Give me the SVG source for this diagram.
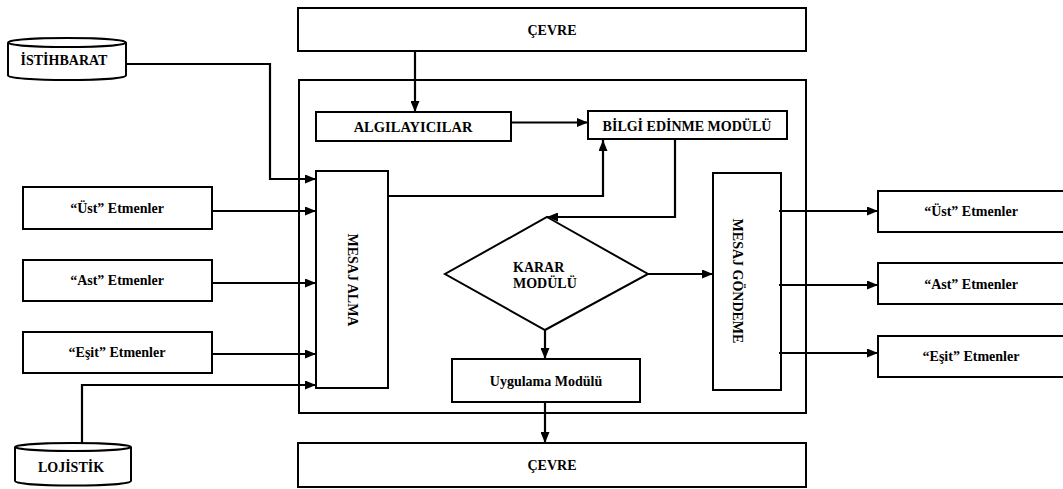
<svg xmlns="http://www.w3.org/2000/svg" width="1063" height="489" viewBox="0 0 1063 489">
<defs>
<style>
.box{fill:#fff;stroke:#000;stroke-width:2}
.plain{fill:none;stroke:#000;stroke-width:2}
.t{font-family:"Liberation Serif","Times New Roman",serif;font-weight:bold;font-size:14px;fill:#000}
.c{text-anchor:middle}
.con{fill:none;stroke:#000;stroke-width:2.2}
</style>
<marker id="ah" markerUnits="userSpaceOnUse" markerWidth="11" markerHeight="9" refX="11" refY="4.5" orient="auto">
<path d="M0,0 L11,4.5 L0,9 z" fill="#000"/>
</marker>
</defs>
<rect width="1063" height="489" fill="#fff"/>

<g id="outer"><rect class="plain" x="299" y="80" width="507" height="333"/></g>

<g id="cevre-top"><rect class="box" x="298" y="8" width="508" height="43"/><text class="t c" x="552" y="35">ÇEVRE</text></g>
<g id="cevre-bottom"><rect class="box" x="298" y="443" width="508" height="44"/><text class="t c" x="552" y="470">ÇEVRE</text></g>

<g id="istihbarat">
<path class="box" d="M8,42.5 V75.5 A59,4.5 0 0 0 126,75.5 V42.5"/>
<ellipse class="box" cx="67" cy="42.5" rx="59" ry="4.5"/>
<text class="t c" x="64" y="65">İSTİHBARAT</text>
</g>
<g id="lojistik">
<path class="box" d="M15,447 V481 A58,4.5 0 0 0 131,481 V447"/>
<ellipse class="box" cx="73" cy="447" rx="58" ry="4"/>
<text class="t c" x="71" y="472">LOJİSTİK</text>
</g>

<g id="ust-in"><rect class="box" x="23" y="187" width="189" height="42"/><text class="t c" x="117" y="213">“Üst” Etmenler</text></g>
<g id="ast-in"><rect class="box" x="23" y="260" width="189" height="41"/><text class="t c" x="117" y="285">“Ast” Etmenler</text></g>
<g id="esit-in"><rect class="box" x="23" y="332" width="189" height="41"/><text class="t c" x="117" y="357">“Eşit” Etmenler</text></g>

<g id="ust-out"><rect class="box" x="878" y="191" width="187" height="41"/><text class="t c" x="971" y="216">“Üst” Etmenler</text></g>
<g id="ast-out"><rect class="box" x="878" y="263" width="187" height="41"/><text class="t c" x="971" y="289">“Ast” Etmenler</text></g>
<g id="esit-out"><rect class="box" x="878" y="336" width="187" height="41"/><text class="t c" x="971" y="361">“Eşit” Etmenler</text></g>

<g id="algilayicilar"><rect class="box" x="316" y="112" width="195" height="29"/><text class="t c" x="413" y="132" style="font-size:14.5px">ALGILAYICILAR</text></g>
<g id="bilgi"><rect class="box" x="588" y="111" width="199" height="28"/><text class="t c" x="687" y="131">BİLGİ EDİNME MODÜLÜ</text></g>

<g id="mesaj-alma"><rect class="box" x="316" y="171" width="72" height="217"/><text class="t c" x="352" y="280" dominant-baseline="central" transform="rotate(90 352 280)">MESAJ ALMA</text></g>
<g id="mesaj-gondeme"><rect class="box" x="713" y="173" width="68" height="217"/><text class="t c" x="737" y="281" dominant-baseline="central" transform="rotate(90 737 281)">MESAJ GÖNDEME</text></g>

<g id="karar"><polygon class="box" points="547,217 648,274 545,330 445,274"/><text class="t" x="513" y="272">KARAR</text><text class="t" x="513" y="288">MODÜLÜ</text></g>

<g id="uygulama"><rect class="box" x="452" y="359" width="188" height="43"/><text class="t c" x="546" y="386">Uygulama Modülü</text></g>

<g id="connectors">
<path class="con" d="M415,51 V112" marker-end="url(#ah)"/>
<path class="con" d="M511,122.5 H588" marker-end="url(#ah)"/>
<path class="con" d="M126,64 H270 V179 H316" marker-end="url(#ah)"/>
<path class="con" d="M212,211 H316" marker-end="url(#ah)"/>
<path class="con" d="M212,283 H316" marker-end="url(#ah)"/>
<path class="con" d="M212,354 H316" marker-end="url(#ah)"/>
<path class="con" d="M82,443 V385 H316" marker-end="url(#ah)"/>
<path class="con" d="M387,196 H603 V140" marker-end="url(#ah)"/>
<path class="con" d="M675,139 V217 H547" marker-end="url(#ah)"/>
<path class="con" d="M648,274 H713" marker-end="url(#ah)"/>
<path class="con" d="M545,330 V359" marker-end="url(#ah)"/>
<path class="con" d="M545,402 V443" marker-end="url(#ah)"/>
<path class="con" d="M779,211 H878" marker-end="url(#ah)"/>
<path class="con" d="M779,285 H878" marker-end="url(#ah)"/>
<path class="con" d="M779,353 H878" marker-end="url(#ah)"/>
</g>
</svg>
